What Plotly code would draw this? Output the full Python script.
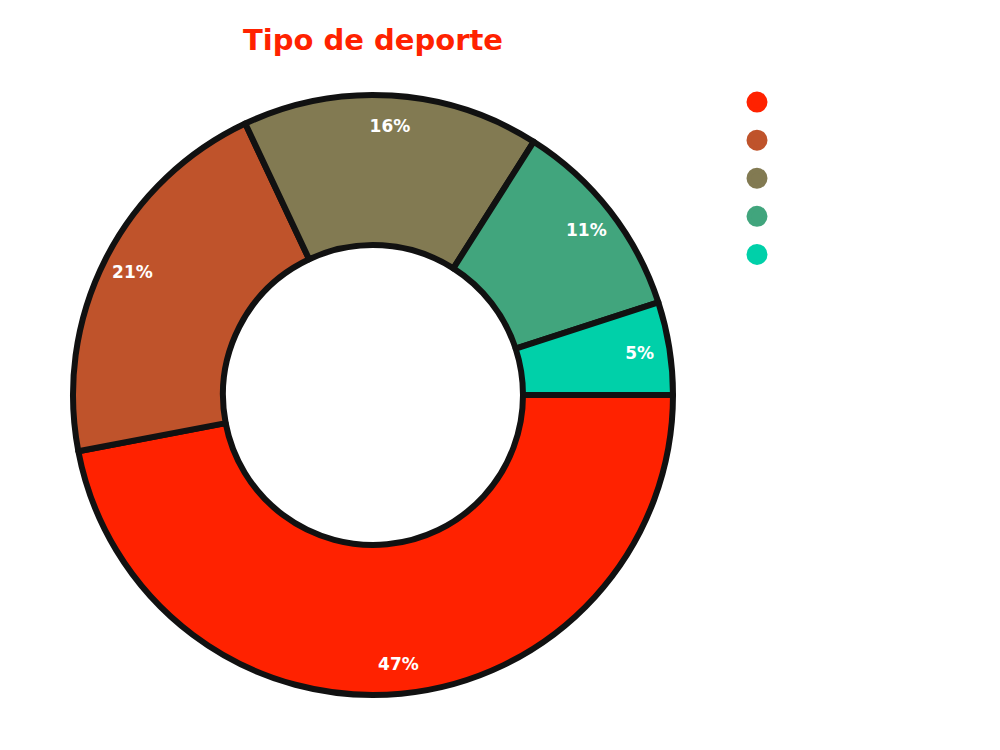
import plotly.graph_objects as go

categories = ["Fútbol", "Baloncesto", "Tenis", "Natación", "Otros"]
values = [47, 21, 16, 11, 5]
colors = ["#ff2200", "#bf532b", "#827a52", "#41a57d", "#00d0a9"]

W, H = 1000, 750
cx, cy, R = 373, 395, 300
dom = dict(x=[(cx - R) / W, (cx + R) / W], y=[(H - cy - R) / H, (H - cy + R) / H])

fig = go.Figure()
fig.add_trace(go.Pie(
    labels=categories, values=values, sort=False, direction="clockwise", rotation=90,
    hole=0.5,
    marker=dict(colors=colors, line=dict(color="#111111", width=6)),
    textinfo="none",
    domain=dom, showlegend=False, hoverinfo="label+percent",
))
# transparent ring on the outer edge carrying the percentage labels
fig.add_trace(go.Pie(
    labels=categories, values=values, sort=False, direction="clockwise", rotation=90,
    hole=0.8,
    marker=dict(colors=["rgba(0,0,0,0)"] * len(values), line=dict(width=0)),
    textinfo="percent", textposition="inside", insidetextorientation="horizontal",
    textfont=dict(family="DejaVu Sans", size=17, color="white", weight="bold"),
    domain=dom, showlegend=False, hoverinfo="skip",
))
for c, col in zip(categories, colors):
    fig.add_trace(go.Scatter(x=[None], y=[None], mode="markers", name=c,
                             marker=dict(symbol="circle", size=16, color=col,
                                         line=dict(color=col, width=5))))

fig.update_layout(
    width=W, height=H, margin=dict(l=0, r=0, t=0, b=0),
    paper_bgcolor="white", plot_bgcolor="white",
    title=dict(text="<b>Tipo de deporte</b>", x=cx / W, xanchor="center", y=1 - 40 / H, yanchor="middle",
               font=dict(family="DejaVu Sans", size=29, color="#ff2200")),
    xaxis=dict(visible=False), yaxis=dict(visible=False),
    legend=dict(x=0.737, y=1 - 78 / H, xanchor="left", yanchor="top",
                font=dict(family="DejaVu Sans", size=27, color="white"),
                itemsizing="trace"),
)
fig.write_html("out.html")
